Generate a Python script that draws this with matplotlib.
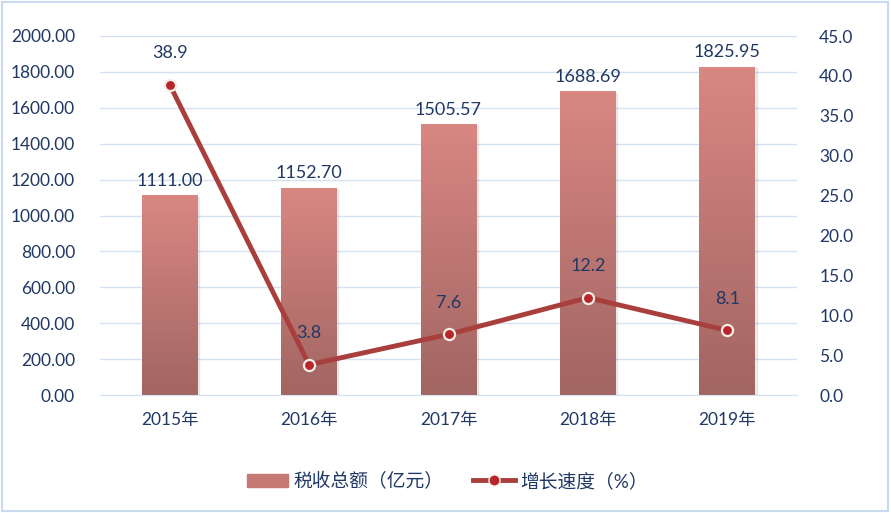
import numpy as np
import matplotlib.pyplot as plt
from matplotlib.colors import LinearSegmentedColormap
from matplotlib.patches import Rectangle
from matplotlib.lines import Line2D

plt.rcParams['font.family'] = ['Lato', 'Noto Sans CJK SC', 'DejaVu Sans']

years = ['2015年', '2016年', '2017年', '2018年', '2019年']
tax_total = [1111.00, 1152.70, 1505.57, 1688.69, 1825.95]
growth = [38.9, 3.8, 7.6, 12.2, 8.1]

text_c = '#1f3864'
grid_c = '#d6e2f2'
line_c = '#a93f3d'

fig = plt.figure(figsize=(8.91, 5.13), dpi=100)
ax = fig.add_axes([100 / 891, 1 - 395 / 513, 697 / 891, 359 / 513])
ax2 = ax.twinx()

x = np.arange(len(years))
bars = ax.bar(x, tax_total, width=0.4, color='none', zorder=2)
cmap = LinearSegmentedColormap.from_list('bar', ['#a16562', '#d98783'])
grad = np.linspace(0, 1, 256).reshape(-1, 1)
for b in bars:
    x0, w, h = b.get_x(), b.get_width(), b.get_height()
    # slight shadow
    ax.add_patch(Rectangle((x0 + 0.01, 0), w, h - 6, color='#000000', alpha=0.07, zorder=1.5))
    ax.imshow(grad, extent=[x0, x0 + w, 0, h], origin='lower', cmap=cmap,
              aspect='auto', zorder=2)
for xi, v in zip(x, tax_total):
    ax.annotate(f'{v:.2f}', (xi, v), xytext=(0, 5), textcoords='offset points',
                ha='center', va='bottom', fontsize=13, color=text_c)

ax.set_xlim(-0.5, 4.5)
ax.set_ylim(0, 2000)
ax.set_yticks(np.arange(0, 2001, 200))
ax.set_yticklabels([f'{v:.2f}' for v in np.arange(0, 2001, 200)])
ax.set_xticks(x)
ax.set_xticklabels(years)
ax.grid(axis='y', color=grid_c, linewidth=1, zorder=0)
ax.set_axisbelow(True)

ax2.plot(x, growth, color=line_c, linewidth=3.5, marker='o', markersize=8,
         markerfacecolor='#b8252a', markeredgecolor='#f4eee6', markeredgewidth=1.6,
         zorder=5)
for xi, v in zip(x, growth):
    ax2.annotate(f'{v:.1f}', (xi, v), xytext=(0, 17), textcoords='offset points',
                 ha='center', va='bottom', fontsize=13, color=text_c)
ax2.set_ylim(0, 45)
ax2.set_yticks(np.arange(0, 46, 5))
ax2.set_yticklabels([f'{v:.1f}' for v in np.arange(0, 46, 5)])

for a in (ax, ax2):
    for s in a.spines.values():
        s.set_visible(False)
    a.tick_params(length=0, labelsize=12.5, labelcolor=text_c)
ax.spines['bottom'].set_visible(True)
ax.spines['bottom'].set_color(grid_c)
ax.tick_params(axis='y', pad=18)
ax2.tick_params(axis='y', pad=16)
ax.tick_params(axis='x', pad=12)

handles = [Rectangle((0, 0), 1, 1, color='#c57874'),
           Line2D([], [], color=line_c, linewidth=3.5, marker='o', markersize=8,
                  markerfacecolor='#b8252a', markeredgecolor='#f4eee6')]
fig.legend(handles, ['税收总额（亿元）', '增长速度（%）'], loc='center',
           bbox_to_anchor=(0.502, 1 - 481 / 513), ncol=2, frameon=False,
           fontsize=13.5, labelcolor=text_c, handlelength=2.2, columnspacing=1.6,
           handletextpad=0.3)

fig.patches.append(Rectangle((0.002, 0.003), 0.995, 0.993, transform=fig.transFigure,
                             fill=False, edgecolor='#c9d9ef', linewidth=1.5))

fig.savefig('out.png', dpi=100)
